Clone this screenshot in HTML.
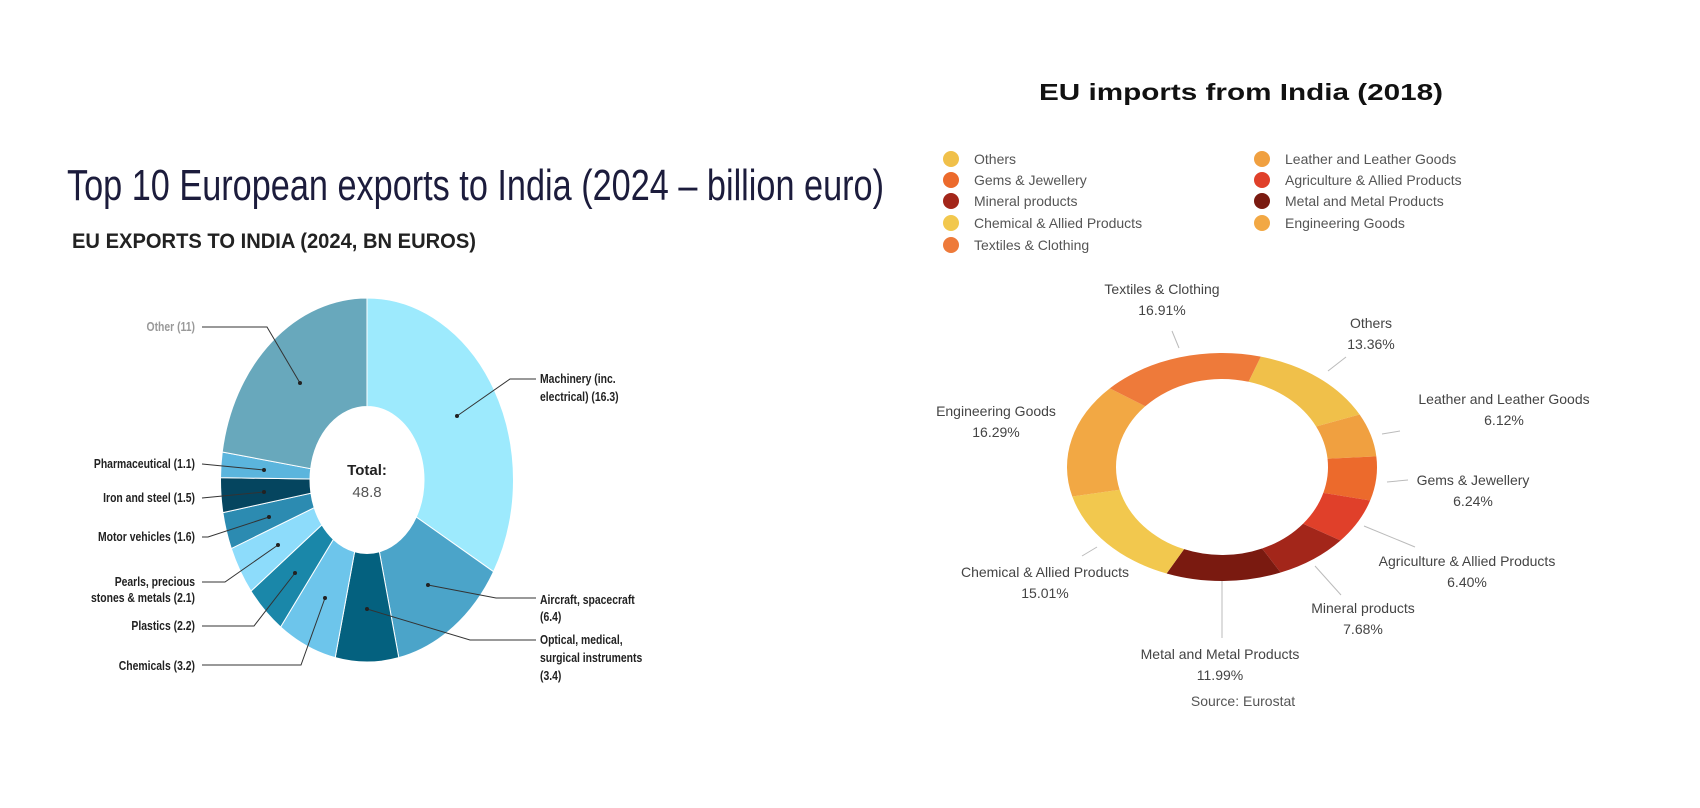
<!DOCTYPE html>
<html><head><meta charset="utf-8"><style>
html,body{margin:0;padding:0;background:#fff;}
svg{display:block;font-family:"Liberation Sans",sans-serif;}
</style></head><body>
<svg id="s" width="1700" height="808" viewBox="0 0 1700 808" xmlns="http://www.w3.org/2000/svg">
<rect width="1700" height="808" fill="#fff"/>
<text x="67" y="200" font-size="44" fill="#1c1c3c" textLength="817" lengthAdjust="spacingAndGlyphs">Top 10 European exports to India (2024 – billion euro)</text>
<text x="72" y="248" font-size="21" font-weight="bold" fill="#222" textLength="404" lengthAdjust="spacingAndGlyphs">EU EXPORTS TO INDIA (2024, BN EUROS)</text>
<g id="left"></g>
<g id="right"></g>
<text x="367" y="475" font-size="15" font-weight="bold" fill="#222" text-anchor="middle">Total:</text>
<text x="367" y="497" font-size="15" fill="#555" text-anchor="middle">48.8</text>
<text x="1039" y="100" font-size="23" font-weight="bold" fill="#111" textLength="404" lengthAdjust="spacingAndGlyphs">EU imports from India (2018)</text>
</svg>
<script>
const NS="http://www.w3.org/2000/svg";
function el(p,t,a,txt){const e=document.createElementNS(NS,t);for(const k in a)e.setAttribute(k,a[k]);if(txt!=null)e.textContent=txt;p.appendChild(e);return e;}
function donut(g,cx,cy,rx,ry,irx,iry,start,vals,cols,stroke){
 const tot=vals.reduce((a,b)=>a+b,0);let a=start;
 vals.forEach((v,i)=>{const a2=a+v/tot*2*Math.PI;
  const P=(r1,r2,t)=>[cx+r1*Math.sin(t),cy-r2*Math.cos(t)];
  const large=(a2-a)>Math.PI?1:0;
  const o1=P(rx,ry,a),o2=P(rx,ry,a2),i1=P(irx,iry,a2),i2=P(irx,iry,a);
  el(g,'path',{d:`M${o1}A${rx},${ry} 0 ${large} 1 ${o2}L${i1}A${irx},${iry} 0 ${large} 0 ${i2}Z`,fill:cols[i],stroke:stroke,'stroke-width':stroke?1:0});
  a=a2;});
}
const L=document.getElementById('left'),R=document.getElementById('right');
donut(L,367,480,146.5,182,57,73.5,0,[16.3,6.4,3.4,3.2,2.2,2.1,1.6,1.5,1.1,11],
 ['#9deafd','#4ba4c9','#04617f','#6dc5eb','#1a87a9','#8ddcfb','#2c8bb1','#05455f','#5bb5dd','#68a8bc'],'#fff');
const ll=[
 [[457,416],[510,379],[536,379]],[[428,585],[496,598],[536,598]],[[367,609],[470,640],[536,640]],
 [[300,383],[267,327],[202,327]],[[264,470],[202,464]],[[264,492],[202,498]],[[269,517],[208,537],[202,537]],
 [[278,545],[225,582],[202,582]],[[295,573],[254,626],[202,626]],[[325,598],[301,665],[202,665]]];
ll.forEach(p=>{el(L,'polyline',{points:p.join(' '),fill:'none',stroke:'#333','stroke-width':1});el(L,'circle',{cx:p[0][0],cy:p[0][1],r:2,fill:'#222'});});
function lt(x,y,s,anchor,col){el(L,'text',{transform:`translate(${x},${y}) scale(0.8,1)`,'text-anchor':anchor,'font-size':13,'font-weight':'bold',fill:col||'#222'},s);}
lt(540,383,'Machinery (inc.','start');lt(540,401,'electrical) (16.3)','start');
lt(540,604,'Aircraft, spacecraft','start');lt(540,621,'(6.4)','start');
lt(540,644,'Optical, medical,','start');lt(540,662,'surgical instruments','start');lt(540,680,'(3.4)','start');
lt(195,331,'Other (11)','end','#999');lt(195,468,'Pharmaceutical (1.1)','end');lt(195,502,'Iron and steel (1.5)','end');
lt(195,541,'Motor vehicles (1.6)','end');lt(195,586,'Pearls, precious','end');lt(195,602,'stones & metals (2.1)','end');
lt(195,630,'Plastics (2.2)','end');lt(195,670,'Chemicals (3.2)','end');
const rc={others:'#f0c04a',leather:'#f0a040',gems:'#ec6a2c',agri:'#e0402a',mineral:'#a3261a',metal:'#7a1a10',chem:'#f2c84e',eng:'#f2a844',tex:'#ee7a3a'};
donut(R,1222,467,155,114,106,88,14.5*Math.PI/180,[13.36,6.12,6.24,6.40,7.68,11.99,15.01,16.29,16.91],
 [rc.others,rc.leather,rc.gems,rc.agri,rc.mineral,rc.metal,rc.chem,rc.eng,rc.tex],null);
[[1172,331,1179,348],[1346,357,1328,371],[1400,431,1382,434],[1408,480,1387,482],[1415,547,1364,526],[1341,595,1315,566],[1222,638,1222,581],[1097,547,1082,556]]
 .forEach(l=>el(R,'line',{x1:l[0],y1:l[1],x2:l[2],y2:l[3],stroke:'#bbb','stroke-width':1}));
function rt(x,y,a,b){el(R,'text',{x:x,y:y+5,'text-anchor':'middle','font-size':14,fill:'#444'},a);el(R,'text',{x:x,y:y+26,'text-anchor':'middle','font-size':14,fill:'#444'},b);}
rt(1162,289,'Textiles & Clothing','16.91%');rt(1371,323,'Others','13.36%');rt(1504,399,'Leather and Leather Goods','6.12%');
rt(1473,480,'Gems & Jewellery','6.24%');rt(1467,561,'Agriculture & Allied Products','6.40%');rt(1363,608,'Mineral products','7.68%');
rt(1220,654,'Metal and Metal Products','11.99%');rt(1045,572,'Chemical & Allied Products','15.01%');rt(996,411,'Engineering Goods','16.29%');
el(R,'text',{x:1243,y:706,'text-anchor':'middle','font-size':14,fill:'#555'},'Source: Eurostat');
[[951,159,rc.others,'Others'],[951,180,rc.gems,'Gems & Jewellery'],[951,201,rc.mineral,'Mineral products'],[951,223,rc.chem,'Chemical & Allied Products'],[951,245,rc.tex,'Textiles & Clothing'],
 [1262,159,rc.leather,'Leather and Leather Goods'],[1262,180,rc.agri,'Agriculture & Allied Products'],[1262,201,rc.metal,'Metal and Metal Products'],[1262,223,rc.eng,'Engineering Goods']]
 .forEach(d=>{el(R,'circle',{cx:d[0],cy:d[1],r:8,fill:d[2]});el(R,'text',{x:d[0]+23,y:d[1]+5,'font-size':14,fill:'#555'},d[3]);});
</script>
</body></html>
